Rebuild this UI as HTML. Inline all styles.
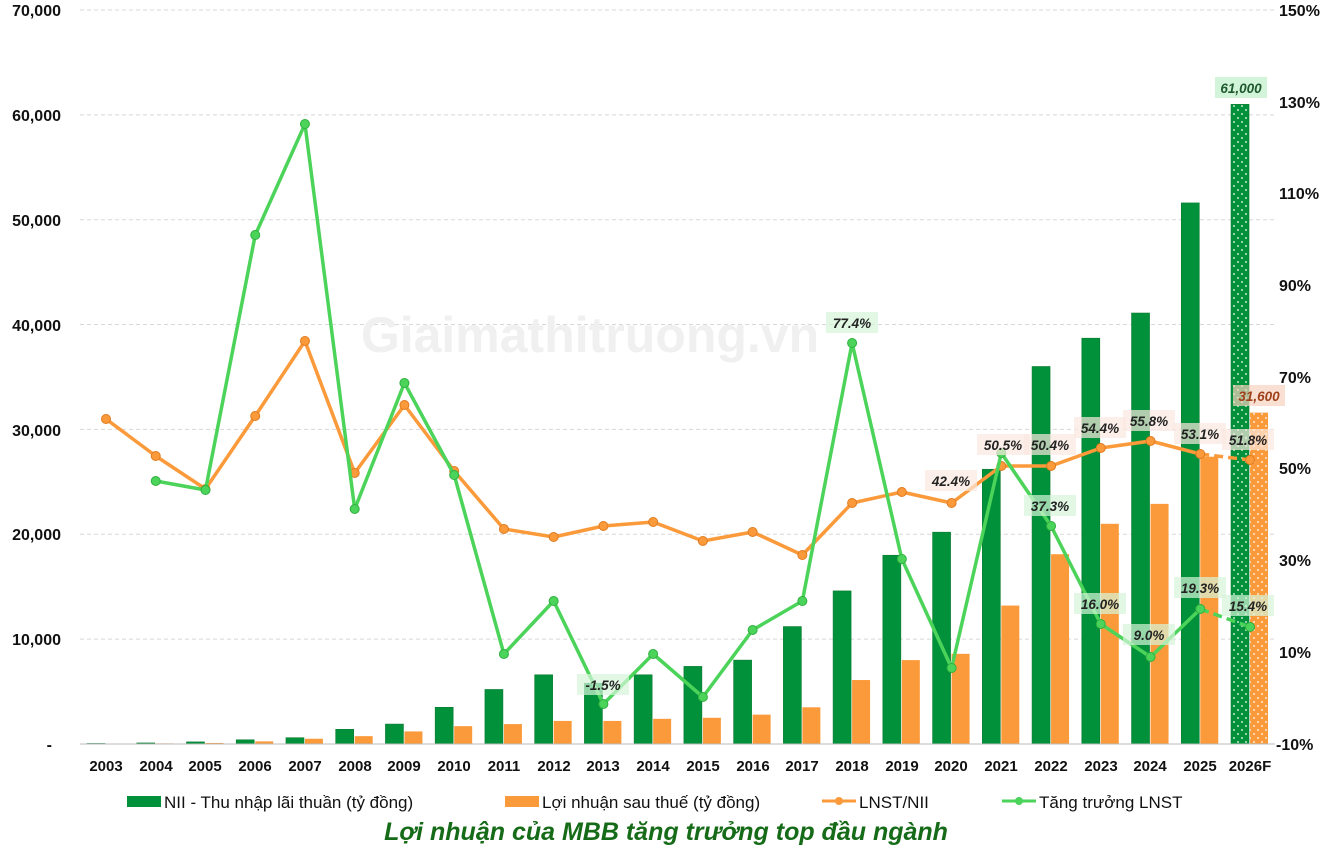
<!DOCTYPE html>
<html><head><meta charset="utf-8"><style>
body{margin:0;background:#fff;}
svg{display:block;font-family:"Liberation Sans",sans-serif;}
.yl{font-size:16px;font-weight:bold;fill:#111;}
.xl{font-size:15px;font-weight:bold;fill:#111;text-anchor:middle;}
.dl{font-size:13.5px;font-weight:bold;font-style:italic;fill:#222;text-anchor:middle;}
.lg{font-size:17px;fill:#111;}
</style></head><body>
<svg id="s" width="1332" height="857" viewBox="0 0 1332 857">
<defs>
<pattern id="dg" width="8" height="8" patternUnits="userSpaceOnUse"><rect width="8" height="8" fill="#00913a"/><circle cx="2" cy="2" r="0.9" fill="#fff"/><circle cx="6" cy="6" r="0.9" fill="#fff"/></pattern>
<pattern id="do" width="8" height="8" patternUnits="userSpaceOnUse"><rect width="8" height="8" fill="#fb9a3a"/><circle cx="2" cy="2" r="0.9" fill="#fff"/><circle cx="6" cy="6" r="0.9" fill="#fff"/></pattern>
</defs>
<g id="grid"></g>
<text x="590" y="352" font-size="50" font-weight="bold" fill="#f0f0f0" text-anchor="middle">Giaimathitruong.vn</text>
<g id="bars"></g>
<line x1="80" y1="744" x2="1275" y2="744" stroke="#bbb" stroke-width="1"/>
<g id="lines"></g>
<g class="yl" text-anchor="end">
<text x="61" y="16">70,000</text><text x="61" y="121">60,000</text><text x="61" y="226">50,000</text><text x="61" y="331">40,000</text><text x="61" y="436">30,000</text><text x="61" y="540">20,000</text><text x="61" y="645">10,000</text><text x="52" y="750">-</text>
</g>
<g class="yl">
<text x="1279" y="16">150%</text><text x="1279" y="108">130%</text><text x="1279" y="199">110%</text><text x="1279" y="291">90%</text><text x="1279" y="383">70%</text><text x="1279" y="474">50%</text><text x="1279" y="566">30%</text><text x="1279" y="658">10%</text><text x="1276" y="750">-10%</text>
</g>
<g class="xl">
<text x="106" y="771">2003</text><text x="156" y="771">2004</text><text x="205" y="771">2005</text><text x="255" y="771">2006</text><text x="305" y="771">2007</text><text x="355" y="771">2008</text><text x="404" y="771">2009</text><text x="454" y="771">2010</text><text x="504" y="771">2011</text><text x="554" y="771">2012</text><text x="603" y="771">2013</text><text x="653" y="771">2014</text><text x="703" y="771">2015</text><text x="753" y="771">2016</text><text x="802" y="771">2017</text><text x="852" y="771">2018</text><text x="902" y="771">2019</text><text x="951" y="771">2020</text><text x="1001" y="771">2021</text><text x="1051" y="771">2022</text><text x="1101" y="771">2023</text><text x="1150" y="771">2024</text><text x="1200" y="771">2025</text><text x="1250" y="771">2026F</text>
</g>
<g id="lbl"></g>
<g class="dl">
<text x="951" y="486">42.4%</text><text x="1003" y="450">50.5%</text><text x="1050" y="450">50.4%</text><text x="1100" y="433">54.4%</text><text x="1149" y="426">55.8%</text><text x="1200" y="439">53.1%</text><text x="1248" y="445">51.8%</text>
<text x="852" y="328">77.4%</text><text x="603" y="690">-1.5%</text><text x="1050" y="511">37.3%</text><text x="1100" y="609">16.0%</text><text x="1149" y="640">9.0%</text><text x="1200" y="593">19.3%</text><text x="1248" y="611">15.4%</text>
<text x="1241" y="93" fill="#1f5a2f">61,000</text><text x="1259" y="401" fill="#a0401a">31,600</text>
</g>
<rect x="127" y="796" width="34" height="11" fill="#00913a"/>
<text class="lg" x="164" y="808">NII  - Thu nhập lãi thuần (tỷ đồng)</text>
<rect x="505" y="796" width="34" height="11" fill="#fb9a3a"/>
<text class="lg" x="542" y="808">Lợi nhuận sau thuế (tỷ đồng)</text>
<line x1="822" y1="801" x2="856" y2="801" stroke="#fb9a3a" stroke-width="3"/><circle cx="839" cy="801" r="4" fill="#fb9a3a"/>
<text class="lg" x="859" y="808">LNST/NII</text>
<line x1="1002" y1="801" x2="1036" y2="801" stroke="#4cd35a" stroke-width="3"/><circle cx="1019" cy="801" r="4" fill="#4cd35a"/>
<text class="lg" x="1039" y="808">Tăng trưởng LNST</text>
<text x="666" y="840" font-size="25" font-weight="bold" font-style="italic" fill="#156b17" text-anchor="middle">Lợi nhuận của MBB tăng trưởng top đầu ngành</text>
</svg>
<script>
var NS="http://www.w3.org/2000/svg";
function el(p,t,a){var e=document.createElementNS(NS,t);for(var k in a)e.setAttribute(k,a[k]);document.getElementById(p).appendChild(e);return e;}
for(var i=1;i<=7;i++){var y=744-i*104.86;el("grid","line",{x1:80,x2:1275,y1:y,y2:y,stroke:"#d8d8d8","stroke-dasharray":"4,3"});}
var nii=[50,100,200,400,600,1400,1900,3500,5200,6600,5800,6600,7400,8000,11200,14600,18000,20200,26200,36000,38700,41100,51600,61000];
var ln=[30,60,100,250,500,750,1200,1700,1900,2200,2200,2400,2500,2800,3500,6100,8000,8600,13200,18100,21000,22900,27400,31600];
function X(i){return 106+i*49.74;}
function Y(v){return 744-v*0.010486;}
for(var i=0;i<24;i++){var c=X(i);
el("bars","rect",{x:c-19,y:Y(nii[i]),width:18,height:744-Y(nii[i]),fill:i==23?"url(#dg)":"#00913a",stroke:"#0a7a30","stroke-width":0.6});
el("bars","rect",{x:c,y:Y(ln[i]),width:18,height:744-Y(ln[i]),fill:i==23?"url(#do)":"#fb9a3a"});}
var r=[419,456,489,416,341,473,405,471,529,537,526,522,541,532,555,503,492,503,466,466,448,441,454,460];
var g=[null,481,490,235,124,509,383,475,654,601,704,654,697,630,601,343,559,668,453,526,624,657,609,627];
function line(a,col,s){var p=[];for(var i=s;i<23;i++)p.push(X(i)+","+a[i]);
el("lines","polyline",{points:p.join(" "),fill:"none",stroke:col,"stroke-width":3.5,"stroke-linejoin":"round"});
el("lines","line",{x1:X(22),y1:a[22],x2:X(23),y2:a[23],stroke:col,"stroke-width":3.5,"stroke-dasharray":"9,5"});
for(var i=s;i<24;i++)el("lines","circle",{cx:X(i),cy:a[i],r:4.5,fill:col,stroke:col=="#fb9a3a"?"#e07b20":"#2fb040","stroke-width":1});}
line(r,"#fb9a3a",0);line(g,"#4cd35a",1);
var L=[[951,481,"#fbe8e0"],[1003,445,"#fbe8e0"],[1050,445,"#fbe8e0"],[1100,428,"#fbe8e0"],[1149,421,"#fbe8e0"],[1200,434,"#fbe8e0"],[1248,440,"#fbe8e0"],
[852,323,"#d6f5da"],[603,685,"#d6f5da"],[1050,506,"#d6f5da"],[1100,604,"#d6f5da"],[1149,635,"#d6f5da"],[1200,588,"#d6f5da"],[1248,606,"#d6f5da"],[1241,88,"#bff0c8"],[1259,396,"#f8d3c0"]];
L.forEach(function(b){el("lbl","rect",{x:b[0]-26,y:b[1]-11,width:52,height:21,fill:b[2],opacity:0.7});});
</script>
</body></html>
